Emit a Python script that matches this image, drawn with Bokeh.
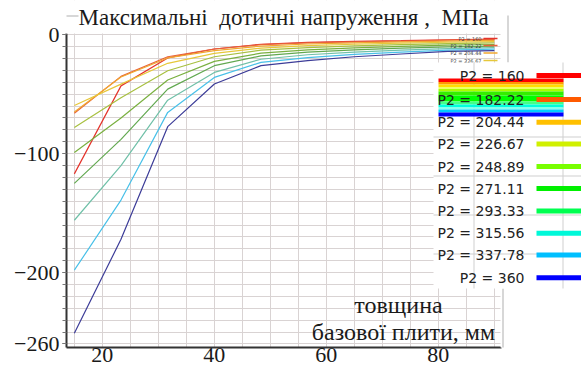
from bokeh.plotting import figure
from bokeh.models import Range1d, FixedTicker, Label, BoxAnnotation
from bokeh.embed import file_html
from bokeh.resources import INLINE

# thickness of the base plate, mm
thickness = [15, 23.33, 31.67, 40, 48.33, 56.67, 65, 73.33, 81.67, 90]

# maximum shear stress, MPa, one series per load P2
p2_names = ["P2 = 160", "P2 = 182.22", "P2 = 204.44", "P2 = 226.67", "P2 = 248.89",
            "P2 = 271.11", "P2 = 293.33", "P2 = 315.56", "P2 = 337.78", "P2 = 360"]
tau_160 = [-117, -43, -19.5, -12, -8, -6.4, -5.6, -5, -4.2, -3.6]
tau_182 = [-66, -35, -18.5, -12, -8.3, -6.8, -6, -5.3, -4.6, -4]
tau_204 = [-65, -35.5, -19.5, -13.4, -9.5, -7.8, -6.8, -6, -5.3, -4.8]
tau_227 = [-59.5, -41.5, -24, -15.7, -11.2, -9.2, -8, -7.1, -6.3, -5.8]
tau_249 = [-78, -53, -30.3, -18.5, -13, -10.8, -9.4, -8.3, -7.4, -6.9]
tau_271 = [-99, -70, -38, -22.4, -15.5, -12.8, -11, -9.8, -8.8, -8.2]
tau_293 = [-125, -88, -45.7, -26, -17.8, -14.6, -12.7, -11.3, -10.2, -9.5]
tau_316 = [-156, -110, -55, -31.7, -20.6, -16.8, -14.6, -13, -11.7, -10.9]
tau_338 = [-198, -139, -65.3, -35.9, -23.2, -19.2, -16.5, -14.6, -12.9, -12.1]
tau_360 = [-251, -172, -77.3, -41.4, -26, -21.8, -18.5, -16.2, -14, -13.4]

x_ticks = [20, 40, 60, 80]
y_ticks = [0, -100, -200, -260]

series = [tau_160, tau_182, tau_204, tau_227, tau_249,
          tau_271, tau_293, tau_316, tau_338, tau_360]
line_colors = ["#e4342c", "#e8623a", "#f0a830", "#e6c83a", "#a8c040",
               "#7ab040", "#62a850", "#70c0a8", "#48c0e8", "#3c3c98"]
key_colors = ["#ff0000", "#ff5a00", "#ffc000", "#d0f000", "#78ff00",
              "#00f000", "#00ff50", "#00f8d8", "#00bfff", "#0000ff"]

SERIF = "Liberation Serif"
SANS = "DejaVu Sans"
NB = "\u00a0"

# the frame reaches the top and right edges of the page so that the title
# and the key (drawn in canvas units) are not clipped
p = figure(width=581, height=372, output_backend="svg", toolbar_location=None,
           x_range=Range1d(13.6, 105.56), y_range=Range1d(-263, 28.8),
           min_border_left=66, min_border_right=0, min_border_top=0,
           min_border_bottom=25, background_fill_color="#ffffff",
           border_fill_color="#ffffff", outline_line_color=None)

# grid: every 5 mm and every 10 MPa
p.xgrid.ticker = FixedTicker(ticks=list(range(15, 91, 5)))
p.ygrid.ticker = FixedTicker(ticks=list(range(0, -261, -10)))
for g in (p.xgrid, p.ygrid):
    g.grid_line_color = "#d9d3d3"
    g.grid_line_width = 1

p.xaxis.ticker = FixedTicker(ticks=x_ticks, minor_ticks=list(range(15, 91, 5)))
p.yaxis.ticker = FixedTicker(ticks=y_ticks, minor_ticks=list(range(0, -261, -10)))
p.xaxis.bounds = (13.6, 91.2)
p.yaxis.bounds = (-263, 1)
for ax in (p.xaxis, p.yaxis):
    ax.axis_line_color = "#333333"
    ax.axis_line_width = 2
    ax.major_tick_line_color = "#555555"
    ax.minor_tick_line_color = "#777777"
    ax.major_tick_in = 0
    ax.minor_tick_in = 0
    ax.major_label_text_font = SERIF
    ax.major_label_text_color = "#1a1a1a"
p.xaxis.major_tick_out = 0
p.xaxis.minor_tick_out = 0
p.xaxis.major_label_text_font_size = "22px"
p.xaxis.major_label_standoff = 0
p.yaxis.major_tick_out = 4
p.yaxis.minor_tick_out = 4
p.yaxis.major_label_text_font_size = "22px"
p.yaxis.major_label_standoff = 3

for vals, col in zip(series, line_colors):
    p.line(thickness, vals, line_color=col, line_width=1.2)


def cbox(left, right, top, bottom, color, line=None):
    p.add_layout(BoxAnnotation(left=left, right=right, top=top, bottom=bottom,
                               left_units="canvas", right_units="canvas",
                               top_units="canvas", bottom_units="canvas",
                               fill_color=color, fill_alpha=1 if color else 0,
                               line_color=line, line_width=1))


def clabel(x, y, text, size, font, align="left", color="#1a1a1a", bg=None):
    p.add_layout(Label(x=x, y=y, x_units="canvas", y_units="canvas", text=text,
                       text_font=font, text_font_size=size, text_color=color,
                       text_align=align, text_baseline="middle",
                       background_fill_color=bg))


# blank margins above and to the right of the plotting area
cbox(0, 581, 0, 33, "#ffffff")
cbox(500, 581, 0, 372, "#ffffff")

# pieces of the outer chart border
cbox(36, 78, 15, 16, "#b0b0b0")
cbox(507, 508, 15, 62, "#b0b0b0")
cbox(502, 503, 288, 372, "#b0b0b0")

# title
clabel(78, 17, f"Максимальні{NB} дотичні напруження ,{NB} МПа", "23px", SERIF)

# axis caption
clabel(398, 304, "товщина", "24px", SERIF, align="center")
clabel(403, 331, "базової плити, мм", "24px", SERIF, align="center")

# small key in the corner of the plot
small_y = [38, 45, 52.5, 60]
for i, yy in enumerate(small_y):
    clabel(481, yy, p2_names[i], "5px", SANS, align="right", color="#444444")
    cbox(483, 497, yy - 0.8, yy + 0.8, line_colors[i])

# large key
cbox(433, 581, 62, 288, "#ffffff")
for gx in (473, 562):
    cbox(gx, gx + 1, 62, 288, "#cfcfcf")
for gy in (136, 175, 214, 253):
    cbox(433, 581, gy, gy + 1, "#cfcfcf")

band_colors = ["#ff0000", "#ff9900", "#ffdd00", "#eeff66", "#aaff00", "#33ee00",
               "#00ff00", "#44ff88", "#00ffdd", "#88ffee", "#00ccff", "#0000ff"]
band_edges = [78, 81.5, 84, 86.5, 88.5, 91, 95, 101, 104, 107, 109, 112, 116]
for i, col in enumerate(band_colors):
    cbox(438, 563, band_edges[i], band_edges[i + 1], col)

key_y = [75, 99, 121.7, 143.5, 166, 188, 210.5, 232.7, 254.5, 277.3]
for name, col, yy in zip(p2_names, key_colors, key_y):
    cbox(536, 581, yy - 2.5, yy + 2.5, col)
    clabel(524, yy, name, "14px", SANS, align="right", color="#222222")

open("out.html", "w").write(file_html(p, INLINE))
